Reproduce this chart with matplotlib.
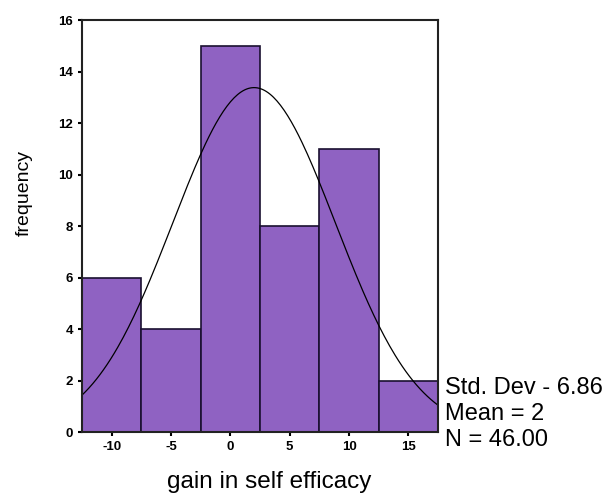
import numpy as np
import matplotlib.pyplot as plt

plt.rcParams['font.family'] = ['Liberation Sans', 'DejaVu Sans']

# histogram bins (centres) and counts
bin_centres = [-10, -5, 0, 5, 10, 15]
counts = [6, 4, 15, 8, 11, 2]
bin_width = 5

# summary stats shown on the chart
std_dev = 6.86
mean = 2
n = 46

fig = plt.figure(figsize=(6.06, 4.96), dpi=100)
ax = fig.add_axes([0.1353, 0.129, 0.5875, 0.8306])

ax.bar(bin_centres, counts, width=bin_width, color='#8f62c2',
       edgecolor='#1a1030', linewidth=1.2)

# fitted normal curve from the stated mean / std dev / N
x = np.linspace(-12.5, 17.5, 200)
y = n * bin_width / (std_dev * np.sqrt(2 * np.pi)) * np.exp(-0.5 * ((x - mean) / std_dev) ** 2)
ax.plot(x, y, color='black', linewidth=0.9)

ax.set_xlim(-12.5, 17.5)
ax.set_ylim(0, 16)
ax.set_xticks(bin_centres)
ax.set_xticklabels(['-10', '-5', '0', '5', '10', '15'])
ax.set_yticks(range(0, 17, 2))
ax.tick_params(axis='both', labelsize=9.5, length=3, width=1.5, direction='out')
for lab in ax.get_xticklabels() + ax.get_yticklabels():
    lab.set_fontweight('bold')
for s in ax.spines.values():
    s.set_linewidth(1.5)
    s.set_color('#222222')

ax.set_xlabel('gain in self efficacy', fontsize=17.5)
ax.xaxis.set_label_coords(0.525, -0.095)
ax.set_ylabel('frequency', fontsize=14)
ax.yaxis.set_label_coords(-0.138, 0.58)

stats = ['Std. Dev - 6.86', 'Mean = 2', 'N = 46.00']
for i, t in enumerate(stats):
    fig.text(445 / 606, 1 - (388 + 26 * i) / 496, t, fontsize=17, va='center', ha='left')

fig.savefig('out.png', dpi=100)
